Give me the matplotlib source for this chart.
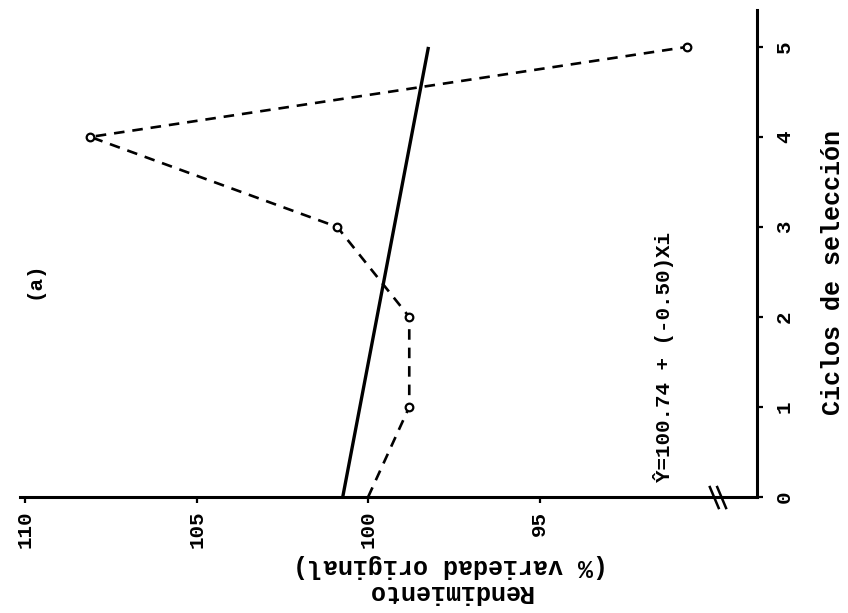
import matplotlib.pyplot as plt

ciclos = [0, 1, 2, 3, 4, 5]
rendimiento = [100.0, 98.8, 98.8, 100.9, 108.1, 90.7]
intercepto = 100.74
pendiente = -0.50
ticks_rend = [110, 105, 100, 95]
ticks_ciclo = [0, 1, 2, 3, 4, 5]

plt.rcParams['font.family'] = ['Liberation Mono', 'DejaVu Sans Mono']
plt.rcParams['font.weight'] = 'bold'

fig = plt.figure(figsize=(8.48, 6.13), dpi=100)
ax = fig.add_axes([0.0236, 0.1892, 0.8691, 0.7945])

# the page is turned: yield runs along the bottom (110 on the left), cycles go up the right side
recta = [intercepto + pendiente * c for c in ciclos]
ax.plot(recta, ciclos, color='black', lw=2.4, solid_capstyle='butt')
ax.plot(rendimiento, ciclos, color='black', lw=1.9, dashes=(4, 3))
ax.plot(rendimiento[1:], ciclos[1:], ls='none', marker='o', ms=5.5,
        mfc='white', mec='black', mew=1.6)

ax.set_xlim(110.15, 88.66)
ax.set_ylim(0, 5.41)

for s in ['top', 'left']:
    ax.spines[s].set_visible(False)
for s in ['bottom', 'right']:
    ax.spines[s].set_linewidth(2.2)

ax.set_xticks(ticks_rend)
ax.set_xticklabels([str(t) for t in ticks_rend], rotation=90, fontsize=15)
ax.set_yticks(ticks_ciclo)
ax.set_yticklabels([str(t) for t in ticks_ciclo], rotation=90, fontsize=15, va='center')
ax.yaxis.tick_right()
ax.tick_params(axis='x', direction='out', length=4, width=1.6, pad=6)
ax.tick_params(axis='y', direction='out', length=4, width=1.6, pad=9)

# axis break on the yield axis
for x0 in (0.936, 0.946):
    ax.plot([x0, x0 + 0.012], [0.0205, -0.0226], transform=ax.transAxes,
            color='black', lw=1.8, clip_on=False)

fig.text(450 / 848, 1 - 579 / 613, 'Rendimiento\n(% variedad original)',
         rotation=180, ha='center', va='center', multialignment='center',
         fontsize=18, linespacing=1.1)
fig.text(833 / 848, 1 - 273 / 613, 'Ciclos de selección', rotation=90,
         ha='center', va='center', fontsize=18)
fig.text(664 / 848, 1 - 482 / 613, 'Ŷ=%.2f + (%.2f)Xi' % (intercepto, pendiente),
         rotation=90, ha='center', va='bottom', fontsize=15)
fig.text(34 / 848, 1 - 280 / 613, '(a)', rotation=90, ha='center', va='center',
         fontsize=15)

fig.savefig('out.png', dpi=100)
